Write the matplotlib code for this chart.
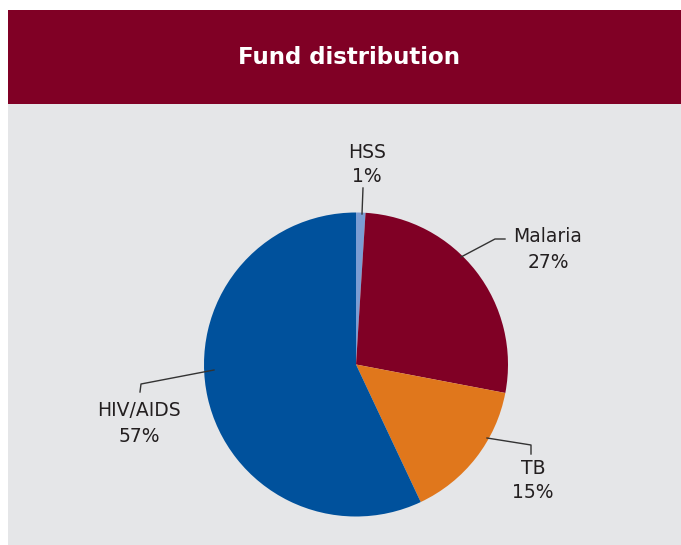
import matplotlib
matplotlib.use("Agg")
import matplotlib.pyplot as plt
from matplotlib.patches import Rectangle

categories = ["HSS", "Malaria", "TB", "HIV/AIDS"]
values = [1, 27, 15, 57]
colors = ["#7B9DD3", "#800025", "#E0771C", "#00519C"]
title = "Fund distribution"

W, H = 681, 545
fig = plt.figure(figsize=(W / 100, H / 100), dpi=100)
fig.patch.set_facecolor("white")
ax = fig.add_axes([0, 0, 1, 1])

def Y(y):
    return H - y

# background panels
ax.add_patch(Rectangle((8, Y(545)), W - 8, 545 - 104, facecolor="#E5E6E8", edgecolor="none", zorder=0))
ax.add_patch(Rectangle((8, Y(104)), W - 8, 104 - 10, facecolor="#800025", edgecolor="none", zorder=0))
ax.text(349, Y(58), title, color="white", fontsize=16.5, fontweight="bold",
        ha="center", va="center", family="DejaVu Sans")

ax.pie(values, colors=colors, startangle=90, counterclock=False,
       center=(356, Y(364.5)), radius=152, frame=True,
       wedgeprops=dict(linewidth=0))
ax.set_xlim(0, W)
ax.set_ylim(0, H)
ax.set_aspect("equal")
ax.axis("off")

txtc = "#231F20"
fs = 13.5
label_info = [
    ("HSS", 367, 152, [(362, 214), (363, 188)]),
    ("Malaria", 548, 237, [(461, 257), (495, 239), (505, 239)]),
    ("TB", 533, 468, [(487, 438), (531, 445), (531, 454)]),
    ("HIV/AIDS", 139, 411, [(214, 370), (141, 384), (140, 392)]),
]
for (name, x, y, pts), v in zip(label_info, values):
    ax.text(x, Y(y), name, ha="center", va="center", fontsize=fs, color=txtc)
    ax.text(x, Y(y + 25), f"{v}%", ha="center", va="center", fontsize=fs, color=txtc)
    xs = [p[0] for p in pts]
    ys = [Y(p[1]) for p in pts]
    ax.plot(xs, ys, color="#333333", linewidth=1.0, zorder=5)

fig.savefig("out.png", dpi=100)
